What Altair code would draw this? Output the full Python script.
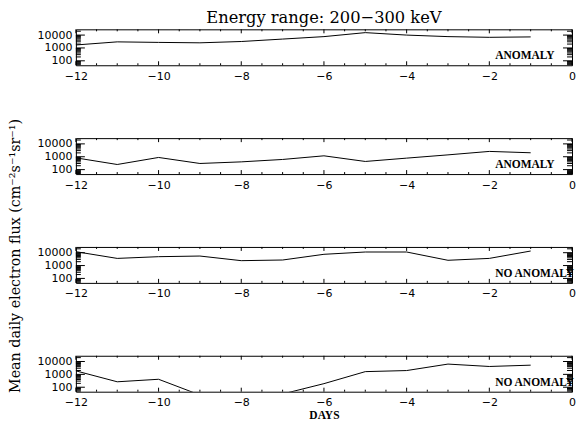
import altair as alt
import pandas as pd

# ---- data ----
days = [-12, -11, -10, -9, -8, -7, -6, -5, -4, -3, -2, -1]
flux_1 = [1700, 2970, 2700, 2500, 3160, 4900, 7600, 15500, 10000, 7600, 6700, 7200]
flux_2 = [820, 250, 880, 300, 400, 615, 1180, 430, 780, 1400, 2600, 2040]
flux_3 = [12000, 3600, 4900, 5500, 2400, 2700, 7500, 11300, 11300, 2570, 3600, 13500]
flux_4 = [1870, 265, 415, 25, 20, 30, 190, 1630, 1980, 6300, 4100, 5200]
series = [flux_1, flux_2, flux_3, flux_4]
panel_labels = ["ANOMALY", "ANOMALY", "NO ANOMALY", "NO ANOMALY"]

title_text = "Energy range: 200\u2212300 keV"
y_title = "Mean daily electron flux (cm\u207b\u00b2s\u207b\u00b9sr\u207b\u00b9)"
x_title = "DAYS"

x_major = [-12, -10, -8, -6, -4, -2, 0]
x_minor = [-11.5, -11, -10.5, -9.5, -9, -8.5, -7.5, -7, -6.5,
           -5.5, -5, -4.5, -3.5, -3, -2.5, -1.5, -1, -0.5]
y_major = [100, 1000, 10000]
y_minor = [50, 60, 70, 80, 90, 200, 300, 400, 500, 600, 700, 800, 900,
           2000, 3000, 4000, 5000, 6000, 7000, 8000, 9000, 20000]

W, H = 497, 36
xscale = alt.Scale(domain=[-12, 0], nice=False, zero=False)
yscale = alt.Scale(type="log", domain=[45, 28000], nice=False)

yaxis = alt.Axis(values=y_major, format="d", ticks=False, domain=False, grid=False,
                 labelFont="DejaVu Sans", labelFontSize=11, labelColor="black",
                 labelPadding=4, labelFlush=False, title=None)


def xaxis(with_title):
    kw = dict(values=x_major, format="d", ticks=False, domain=False, grid=False,
              labelFont="DejaVu Sans", labelFontSize=11, labelColor="black",
              labelPadding=5, labelFlush=False)
    if with_title:
        kw.update(title=x_title, titleFont="Liberation Serif", titleFontSize=11.5,
                  titleFontWeight="bold", titleColor="black", titlePadding=2)
    else:
        kw.update(title=None)
    return alt.Axis(**kw)


def panel(i):
    xa = xaxis(i == 3)
    df = pd.DataFrame({"day": days, "flux": series[i]})
    X = lambda f: alt.X(f, scale=xscale, axis=xa)
    Y = lambda f: alt.Y(f, scale=yscale, axis=yaxis)
    line = alt.Chart(df).mark_line(color="black", strokeWidth=1, clip=True).encode(
        x=X("day:Q"), y=Y("flux:Q"))
    layers = [line]
    ymaj = pd.DataFrame({"v": y_major})
    ymin = pd.DataFrame({"v": y_minor})
    xmaj = pd.DataFrame({"d": x_major})
    xmin = pd.DataFrame({"d": x_minor})
    for d, ln in [(ymaj, 9), (ymin, 5)]:
        layers.append(alt.Chart(d).mark_rule(color="black", strokeWidth=1).encode(
            y=Y("v:Q"), x=alt.value(0), x2=alt.value(ln)))
        layers.append(alt.Chart(d).mark_rule(color="black", strokeWidth=1).encode(
            y=Y("v:Q"), x=alt.value(W), x2=alt.value(W - ln)))
    for d, ln in [(xmaj, 4), (xmin, 2)]:
        layers.append(alt.Chart(d).mark_rule(color="black", strokeWidth=1).encode(
            x=X("d:Q"), y=alt.value(H), y2=alt.value(H - ln)))
        layers.append(alt.Chart(d).mark_rule(color="black", strokeWidth=1).encode(
            x=X("d:Q"), y=alt.value(0), y2=alt.value(ln)))
    lab = alt.Chart(pd.DataFrame({"t": [panel_labels[i]]})).mark_text(
        align="left", baseline="middle", font="Liberation Serif", fontSize=11.5,
        fontWeight="bold", color="black").encode(
        x=alt.value(420), y=alt.value(27), text="t:N")
    layers.append(lab)
    if i == 2:
        yt = alt.Chart(pd.DataFrame({"t": [y_title]})).mark_text(
            align="center", baseline="middle", angle=270, font="DejaVu Serif",
            fontSize=14.3, color="black").encode(
            x=alt.value(-60), y=alt.value(9), text="t:N")
        layers.append(yt)
    props = dict(width=W, height=H)
    if i == 0:
        props["title"] = alt.TitleParams(title_text, font="DejaVu Serif", fontSize=16.3,
                                         fontWeight="normal", color="black",
                                         anchor="middle", offset=3)
    return alt.layer(*layers).properties(**props)


chart = alt.vconcat(*[panel(i) for i in range(4)]).properties(
    spacing=73, bounds="flush", background="white",
    padding={"left": 0, "top": 0, "right": 0, "bottom": 0}
).configure_view(stroke="black", strokeWidth=1)

chart.save("out.html", embed_options={"renderer": "svg", "actions": False})
